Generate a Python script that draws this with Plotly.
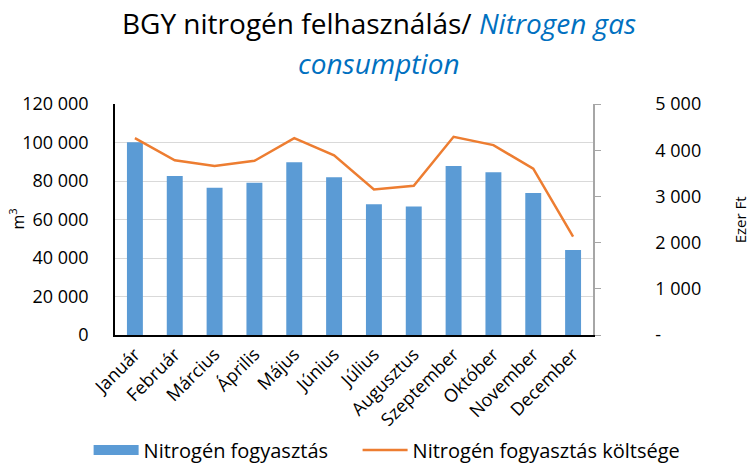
import plotly.graph_objects as go

months = ["Január", "Február", "Március", "Április", "Május", "Június",
          "Július", "Augusztus", "Szeptember", "Október", "November", "December"]
consumption = [100100, 82600, 76500, 79100, 89700, 81900, 67900, 66800, 87800, 84500, 73800, 44200]
cost = [4260, 3780, 3660, 3770, 4260, 3890, 3150, 3230, 4290, 4110, 3600, 2130]

left_ticks = [0, 20000, 40000, 60000, 80000, 100000, 120000]
left_labels = ["0", "20 000", "40 000", "60 000", "80 000", "100 000", "120 000"]
right_ticks = [0, 1000, 2000, 3000, 4000, 5000]
right_labels = ["-", "1 000", "2 000", "3 000", "4 000", "5 000"]

FONT = "Open Sans"
BLUE = "#5B9BD5"
ORANGE = "#ED7D31"

fig = go.Figure()
fig.add_trace(go.Bar(x=months, y=consumption, name="Nitrogén fogyasztás",
                     marker=dict(color=BLUE, line=dict(width=0)), width=0.4,
                     showlegend=False))
# legend proxy for the bar series (wide rectangle swatch)
fig.add_trace(go.Scatter(x=[None], y=[None], name="Nitrogén fogyasztás",
                         mode="lines", line=dict(color=BLUE, width=12), legend="legend"))
fig.add_trace(go.Scatter(x=months, y=cost, name="Nitrogén fogyasztás költsége",
                         mode="lines", line=dict(color=ORANGE, width=2.5), yaxis="y2",
                         legend="legend2"))

leg_common = dict(orientation="h", xanchor="left", yanchor="middle", y=-0.498,
                  font=dict(family=FONT, size=20), itemwidth=45, bgcolor="rgba(0,0,0,0)")

fig.update_layout(
    width=749, height=463,
    margin=dict(l=115, r=156, t=104, b=128, autoexpand=False),
    paper_bgcolor="white", plot_bgcolor="white",
    font=dict(family=FONT, size=16, color="#000000"),
    showlegend=True,
    legend=dict(x=-0.0552, **leg_common),
    legend2=dict(x=0.5075, **leg_common),
    bargap=0.6,
    xaxis=dict(tickangle=-45, showline=True, linecolor="#000000", linewidth=1.5,
               ticks="", automargin=False, tickfont=dict(family=FONT, size=18)),
    yaxis=dict(range=[0, 120000], tickvals=left_ticks, ticktext=left_labels,
               showgrid=True, gridcolor="#D9D9D9", gridwidth=1,
               showline=True, linecolor="#000000", linewidth=1.5,
               ticks="", ticklabelstandoff=21, zeroline=False, automargin=False,
               tickfont=dict(family=FONT, size=18)),
    yaxis2=dict(range=[0, 5000], tickvals=right_ticks, ticktext=right_labels,
                overlaying="y", side="right", showgrid=False,
                showline=True, linecolor="#A6A6A6", linewidth=1.5,
                ticks="outside", ticklen=6, tickcolor="#A6A6A6",
                ticklabelstandoff=51, zeroline=False, automargin=False,
                tickfont=dict(family=FONT, size=18)),
    annotations=[
        dict(text="BGY nitrogén felhasználás/ <i><span style='color:#0070C0'>Nitrogen gas</span></i>",
             xref="paper", yref="paper", x=0.552, y=(335 - 23) / 231,
             xanchor="center", yanchor="middle", showarrow=False,
             font=dict(family=FONT, size=28)),
        dict(text="<i><span style='color:#0070C0'>consumption</span></i>",
             xref="paper", yref="paper", x=0.552, y=(335 - 63) / 231,
             xanchor="center", yanchor="middle", showarrow=False,
             font=dict(family=FONT, size=28)),
        dict(text="m<sup>3</sup>", xref="paper", yref="paper", x=-0.205, y=0.5,
             xanchor="center", yanchor="middle", textangle=-90, showarrow=False,
             font=dict(family=FONT, size=16)),
        dict(text="Ezer Ft", xref="paper", yref="paper", x=1.307, y=0.5,
             xanchor="center", yanchor="middle", textangle=-90, showarrow=False,
             font=dict(family=FONT, size=15)),
    ],
)

fig.write_html("out.html", config={"displayModeBar": False},
               post_script="document.body.style.margin='0';")
